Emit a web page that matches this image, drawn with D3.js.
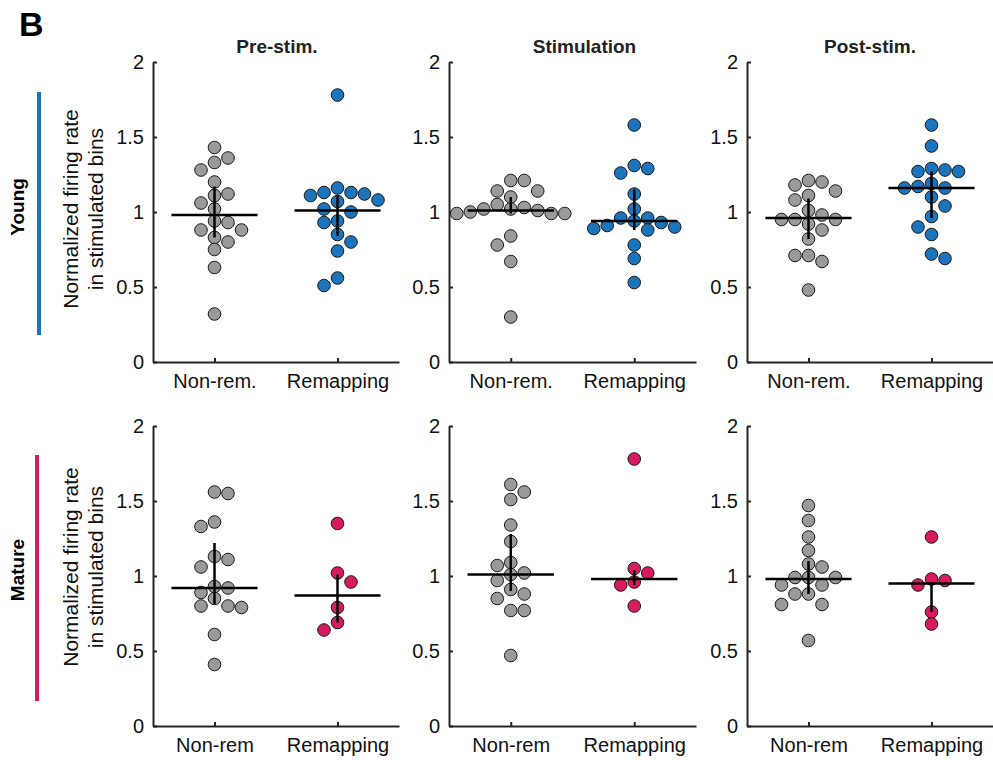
<!DOCTYPE html>
<html>
<head>
<meta charset="utf-8">
<script src="https://cdn.jsdelivr.net/npm/d3@7"></script>
<style>
  body { margin: 0; background: #fff; }
  svg { display: block; font-family: Arial, "Liberation Sans", Helvetica, sans-serif; }
</style>
</head>
<body>
<svg id="chart" width="993" height="760"></svg>
<script>
// ---- data ----
const phases = ["Pre-stim.", "Stimulation", "Post-stim."];
const ages = ["Young", "Mature"];
const youngGroups = ["Non-rem.", "Remapping"];
const matureGroups = ["Non-rem", "Remapping"];
const yTicks = [0, 0.5, 1, 1.5, 2];

// young, per phase: [non-remapping, remapping]
const youngPreNonRem = [1.43, 1.36, 1.33, 1.28, 1.20, 1.12, 1.11, 1.06, 1.02, 0.94, 0.93, 0.88, 0.88, 0.83, 0.80, 0.75, 0.63, 0.32];
const youngPreRemap = [1.78, 1.16, 1.13, 1.13, 1.12, 1.11, 1.08, 1.07, 1.02, 1.00, 0.94, 0.93, 0.85, 0.80, 0.74, 0.56, 0.51];
const youngStimNonRem = [1.21, 1.21, 1.14, 1.14, 1.10, 1.05, 1.03, 1.02, 1.02, 1.01, 1.00, 0.99, 0.99, 0.99, 0.84, 0.78, 0.67, 0.30];
const youngStimRemap = [1.58, 1.31, 1.29, 1.26, 1.12, 1.02, 0.96, 0.96, 0.94, 0.93, 0.91, 0.90, 0.89, 0.88, 0.78, 0.69, 0.53];
const youngPostNonRem = [1.21, 1.20, 1.18, 1.14, 1.11, 1.08, 1.01, 0.98, 0.95, 0.95, 0.95, 0.92, 0.88, 0.82, 0.71, 0.71, 0.67, 0.48];
const youngPostRemap = [1.58, 1.44, 1.29, 1.28, 1.27, 1.27, 1.19, 1.17, 1.16, 1.16, 1.10, 1.04, 0.97, 0.90, 0.85, 0.72, 0.69];

// mature
const maturePreNonRem = [1.56, 1.55, 1.36, 1.33, 1.13, 1.11, 1.06, 0.93, 0.92, 0.89, 0.85, 0.80, 0.80, 0.79, 0.61, 0.41];
const maturePreRemap = [1.35, 1.02, 0.96, 0.79, 0.69, 0.64];
const matureStimNonRem = [1.61, 1.56, 1.51, 1.34, 1.23, 1.09, 1.07, 1.02, 1.01, 0.97, 0.91, 0.88, 0.85, 0.77, 0.77, 0.47];
const matureStimRemap = [1.78, 1.05, 1.02, 0.96, 0.94, 0.80];
const maturePostNonRem = [1.47, 1.37, 1.26, 1.17, 1.08, 1.06, 0.99, 0.99, 0.99, 0.94, 0.94, 0.88, 0.88, 0.81, 0.81, 0.57];
const maturePostRemap = [1.26, 0.98, 0.97, 0.94, 0.76, 0.68];

// median and quartiles shown as cross marks, per phase [non-rem, remap]
const youngMedian = [[0.98, 1.01], [1.01, 0.94], [0.96, 1.16]];
const youngQ1 = [[0.83, 0.84], [0.99, 0.88], [0.82, 0.96]];
const youngQ3 = [[1.17, 1.11], [1.10, 1.15], [1.09, 1.27]];
const matureMedian = [[0.92, 0.87], [1.01, 0.98], [0.98, 0.95]];
const matureQ1 = [[0.81, 0.69], [0.90, 0.94], [0.88, 0.76]];
const matureQ3 = [[1.22, 1.01], [1.28, 1.04], [1.10, 0.95]];

const youngValues = [[youngPreNonRem, youngPreRemap], [youngStimNonRem, youngStimRemap], [youngPostNonRem, youngPostRemap]];
const matureValues = [[maturePreNonRem, maturePreRemap], [matureStimNonRem, matureStimRemap], [maturePostNonRem, maturePostRemap]];

// ---- layout ----
const rows = [
    { age: "Young", groups: youngGroups, values: youngValues, median: youngMedian, q1: youngQ1, q3: youngQ3,
      color: "#1c75bc", top: 62, bottom: 362, barX: 39, barY: [92, 335], labelY: 209, ageY: 207 },
    { age: "Mature", groups: matureGroups, values: matureValues, median: matureMedian, q1: matureQ1, q3: matureQ3,
      color: "#d81b60", top: 426, bottom: 726, barX: 37, barY: [455, 701], labelY: 567, ageY: 570 },
];
const columns = [[153, 399], [449, 696], [747, 993]];
const titleShift = [1, 12, 0];
const dotR = 6.3;
const swarmStep = 13.5;   // horizontal slot width
const swarmGap = 12;      // min centre distance
const grey = "#9a9a9a";
const ink = "#262626";

const svg = d3.select("#chart");

// greedy beeswarm on fixed horizontal slots: offsets in px
function swarm(vals, y, step, d) {
    const placed = [];
    const out = new Array(vals.length);
    const order = d3.range(vals.length).sort((a, b) => vals[b] - vals[a]);
    let side = 1;
    order.forEach(i => {
        const py = y(vals[i]);
        for (let k = 0; k < 40; k++) {
            const slots = k === 0 ? [0] : [side * k, -side * k];
            const hit = slots.find(s => placed.every(p => (p.x - s * step) ** 2 + (p.y - py) ** 2 >= d * d));
            if (hit !== undefined) {
                out[i] = hit * step;
                placed.push({ x: hit * step, y: py });
                if (hit !== 0) side = -Math.sign(hit);
                break;
            }
        }
    });
    return out;
}

svg.append("text")
    .attr("x", 19).attr("y", 36)
    .attr("font-size", 34).attr("font-weight", "bold")
    .text("B");

rows.forEach(row => {
    const y = d3.scaleLinear().domain([0, 2]).range([row.bottom, row.top]);

    // age label + coloured bar
    svg.append("text")
        .attr("transform", `translate(24,${row.ageY}) rotate(-90)`)
        .attr("text-anchor", "middle")
        .attr("font-size", 19).attr("font-weight", "bold")
        .text(row.age);
    svg.append("line")
        .attr("x1", row.barX).attr("x2", row.barX)
        .attr("y1", row.barY[0]).attr("y2", row.barY[1])
        .attr("stroke", row.color).attr("stroke-width", 4);

    // y axis title
    const yl = svg.append("text")
        .attr("transform", `translate(78,${row.labelY}) rotate(-90)`)
        .attr("text-anchor", "middle")
        .attr("font-size", 21)
        .attr("fill", "#111");
    yl.append("tspan").attr("x", 0).attr("dy", 0).text("Normalized firing rate");
    yl.append("tspan").attr("x", 0).attr("dy", 25).text("in stimulated bins");

    columns.forEach((col, c) => {
        const x = d3.scalePoint().domain(row.groups).range(col).padding(0.5);
        const g = svg.append("g");

        if (row.age === "Young") {
            g.append("text")
                .attr("x", (col[0] + col[1]) / 2 + titleShift[c]).attr("y", 53)
                .attr("text-anchor", "middle")
                .attr("font-size", 19).attr("font-weight", "bold")
                .attr("fill", "#222")
                .text(phases[c]);
        }

        // axes
        const yAxis = g.append("g")
            .attr("transform", `translate(${col[0]},0)`)
            .call(d3.axisLeft(y).tickValues(yTicks).tickFormat(d3.format("~g"))
                .tickSizeInner(-4).tickSizeOuter(0).tickPadding(9));
        const xAxis = g.append("g")
            .attr("transform", `translate(0,${row.bottom})`)
            .call(d3.axisBottom(x).tickSizeInner(-4).tickSizeOuter(0).tickPadding(12));
        [yAxis, xAxis].forEach(a => {
            a.attr("font-family", null);
            a.select(".domain").attr("stroke", ink).attr("stroke-width", 2);
            a.selectAll(".tick line").attr("stroke", ink).attr("stroke-width", 2);
            a.selectAll(".tick text").attr("font-size", 20).attr("fill", "#111");
        });

        // dots
        row.groups.forEach((grp, j) => {
            const vals = row.values[c][j];
            const offs = swarm(vals, y, swarmStep, swarmGap);
            g.append("g").selectAll("circle")
                .data(vals)
                .join("circle")
                .attr("cx", (d, i) => x(grp) + offs[i])
                .attr("cy", d => y(d))
                .attr("r", dotR)
                .attr("fill", j === 0 ? grey : row.color)
                .attr("stroke", "#1a1a1a")
                .attr("stroke-width", 1);
        });

        // median + interquartile cross
        row.groups.forEach((grp, j) => {
            const cx = x(grp);
            const half = x.step() * 0.35;
            g.append("line")
                .attr("x1", cx - half).attr("x2", cx + half)
                .attr("y1", y(row.median[c][j])).attr("y2", y(row.median[c][j]))
                .attr("stroke", "#000").attr("stroke-width", 2.5);
            g.append("line")
                .attr("x1", cx).attr("x2", cx)
                .attr("y1", y(row.q1[c][j])).attr("y2", y(row.q3[c][j]))
                .attr("stroke", "#000").attr("stroke-width", 2.5);
        });
    });
});
</script>
</body>
</html>
